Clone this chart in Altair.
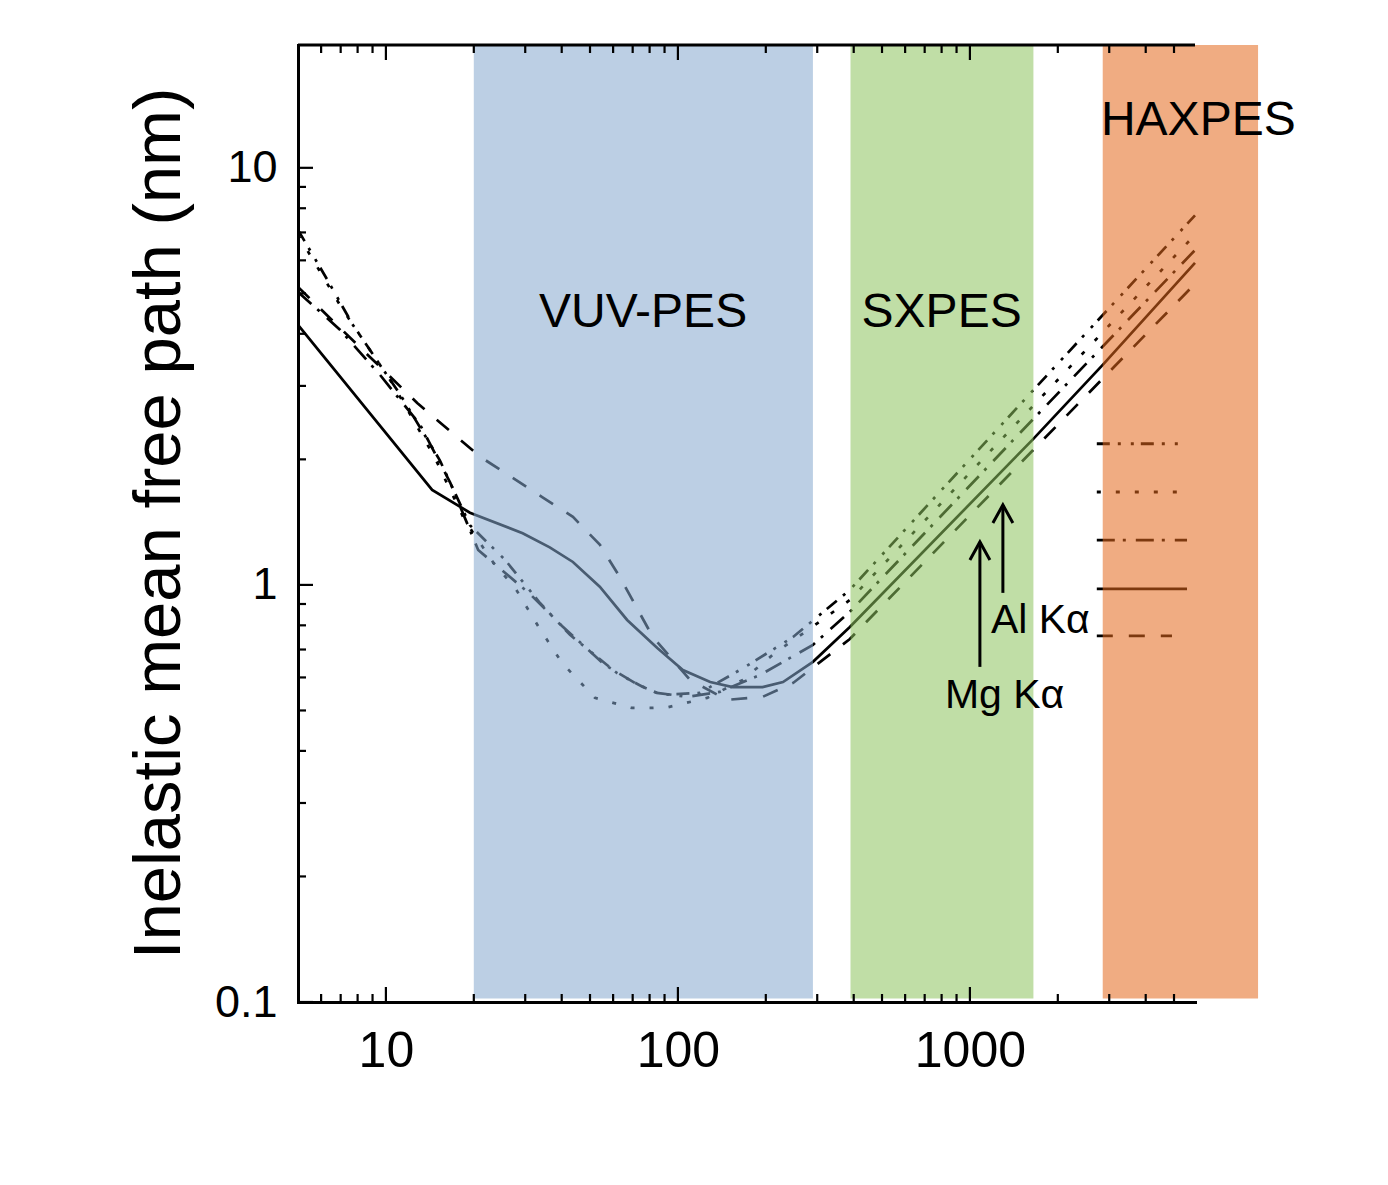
import altair as alt
import pandas as pd

# ---- curves: electron energy (eV) vs inelastic mean free path (nm) ----
solid_x = [5, 14.4, 19.4, 29.4, 36.4, 43.7, 54, 67, 85, 104, 129, 154, 195, 229, 290, 388, 1640, 2850, 5900]
solid_y = [4.2, 1.69, 1.49, 1.33, 1.23, 1.135, 0.99, 0.824, 0.706, 0.625, 0.585, 0.569, 0.569, 0.585, 0.654, 0.793, 2.23, 3.37, 5.92]

dashed_x = [5, 12.8, 21, 34.5, 43.7, 54.1, 63.2, 82.1, 110, 147, 195, 248, 388, 1640, 5900]
dashed_y = [5.18, 2.73, 2.03, 1.62, 1.456, 1.247, 1.045, 0.75, 0.592, 0.53, 0.539, 0.582, 0.742, 2.10, 5.27]

dotted_x = [5, 7.13, 10.5, 14.7, 18.6, 23.6, 27.7, 33.2, 40.1, 52.0, 69.6, 80.2, 92.4, 126, 167, 215, 279, 388, 1640, 5900]
dotted_y = [6.91, 4.56, 3.05, 2.02, 1.43, 1.117, 0.984, 0.797, 0.650, 0.536, 0.507, 0.507, 0.509, 0.536, 0.592, 0.687, 0.780, 0.920, 2.68, 6.91]

dashdotdot_x = [5, 6.33, 7.71, 11.2, 15.3, 19.4, 25.6, 33.7, 42.7, 61.8, 75.9, 88.1, 119, 170, 248, 388, 1640, 5900]
dashdotdot_y = [7.10, 5.36, 4.20, 2.86, 1.99, 1.39, 1.148, 0.905, 0.759, 0.615, 0.569, 0.545, 0.551, 0.636, 0.750, 0.973, 2.92, 7.69]

dashdot_x = [5, 6.96, 9.54, 13.1, 16.6, 20.7, 31.1, 40.1, 56.2, 71.3, 84.7, 108, 139, 191, 290, 388, 1640, 5900]
dashdot_y = [5.04, 4.09, 3.19, 2.42, 1.76, 1.213, 0.952, 0.797, 0.643, 0.582, 0.551, 0.539, 0.554, 0.608, 0.718, 0.862, 2.49, 6.35]

# ---- line-style key drawn inside the HAXPES band ----
key_names = ["dashdotdot", "dotted", "dashdot", "solid", "dashed"]
key_y = [2.18, 1.67, 1.28, 0.978, 0.755]
key_x0 = [2720, 2720, 2720, 2720, 2720]
key_x1 = [5240, 5120, 5540, 5540, 4920]

# ---- spectroscopy bands ----
band_names = ["VUV-PES", "SXPES", "HAXPES"]
band_x0 = [20, 390, 2850]
band_x1 = [290, 1650, 9700]
band_y0 = [0.102, 0.102, 0.102]
band_y1 = [19.7, 19.7, 19.7]
band_colors = ["#85A8CE", "#8CC35D", "#E4681C"]

# ---- text labels ----
label_text = ["VUV-PES", "SXPES", "HAXPES"]
label_x = [76, 800, 2810]
label_y = [4.16, 4.16, 12.0]
label_align = ["center", "center", "left"]

xray_text = ["Al Kα", "Mg Kα"]
xray_text_x = [1180, 821]
xray_text_y = [0.767, 0.507]
arrow_x = [1297, 1082]
arrow_y0 = [0.957, 0.636]
arrow_y1 = [1.555, 1.268]

# ---- axes ----
x_domain = [5, 5900]
y_domain = [0.1, 19.7]
x_labels = [10, 100, 1000]
y_labels = [0.1, 1, 10]
x_minor = [6, 7, 8, 9, 20, 30, 40, 50, 60, 70, 80, 90, 200, 300, 400, 500, 600, 700, 800, 900,
           2000, 3000, 4000, 5000]
y_minor = [0.2, 0.3, 0.4, 0.5, 0.6, 0.7, 0.8, 0.9, 2, 3, 4, 5, 6, 7, 8, 9]

W, H = 897, 957
SANS = "Liberation Sans"

xs = alt.Scale(type="log", domain=x_domain, nice=False)
ys = alt.Scale(type="log", domain=y_domain, nice=False)

XAX = alt.Axis(
    values=x_labels, format="d", title=None, ticks=False, tickSize=0, grid=False,
    labelFont=SANS, labelFontSize=50, labelPadding=24, labelColor="black",
    labelFlush=False, labelOverlap=False, domainColor="black", domainWidth=3,
    domainCap="square")
YAX = alt.Axis(
    values=y_labels, format="~g", ticks=False, tickSize=0, grid=False,
    labelFont=SANS, labelFontSize=45, labelPadding=21, labelColor="black",
    labelFlush=False, labelOverlap=False, domainColor="black", domainWidth=3,
    domainCap="square",
    title="Inelastic mean free path (nm)", titleFont=SANS, titleFontSize=67,
    titleFontWeight="normal", titleColor="black", titleAngle=270,
    titleX=-119, titleY=478, titleAlign="center", titleBaseline="alphabetic")


def X(field):
    return alt.X(field, scale=xs, axis=XAX)


def Y(field):
    return alt.Y(field, scale=ys, axis=YAX)


styles = {
    "dashdotdot": [13, 8, 3, 10, 3, 7],
    "dotted": [4, 15],
    "dashdot": [18, 8, 3, 10],
    "solid": None,
    "dashed": [16, 16],
}
series = [
    ("solid", solid_x, solid_y),
    ("dashed", dashed_x, dashed_y),
    ("dotted", dotted_x, dotted_y),
    ("dashdotdot", dashdotdot_x, dashdotdot_y),
    ("dashdot", dashdot_x, dashdot_y),
]

layers = []
for name, sx, sy in series:
    df = pd.DataFrame({"E": sx, "L": sy})
    kw = dict(color="black", strokeWidth=2.7, clip=False)
    if styles[name] is not None:
        kw["strokeDash"] = styles[name]
    layers.append(alt.Chart(df).mark_line(**kw).encode(x=X("E:Q"), y=Y("L:Q"), order="E:Q"))

# key lines
for name, yv, a, b in zip(key_names, key_y, key_x0, key_x1):
    df = pd.DataFrame({"E": [a], "E2": [b], "L": [yv]})
    kw = dict(color="black", strokeWidth=2.8)
    if styles[name] is not None:
        kw["strokeDash"] = styles[name]
    layers.append(alt.Chart(df).mark_rule(**kw).encode(x=X("E:Q"), x2="E2:Q", y=Y("L:Q")))

# bands (semi-transparent, over the curves)
bands = pd.DataFrame({"name": band_names, "E": band_x0, "E2": band_x1,
                      "L": band_y0, "L2": band_y1, "c": band_colors})
layers.append(alt.Chart(bands).mark_rect(opacity=0.55, clip=False).encode(
    x=X("E:Q"), x2="E2:Q", y=Y("L:Q"), y2="L2:Q",
    color=alt.Color("c:N", scale=None)))


# inward ticks
def xticks(vals, length, top):
    df = pd.DataFrame({"E": vals})
    if top:
        yy, yy2 = alt.value(0), alt.value(length)
    else:
        yy, yy2 = alt.value(H), alt.value(H - length)
    return alt.Chart(df).mark_rule(color="black", strokeWidth=2.2).encode(
        x=X("E:Q"), y=yy, y2=yy2)


def yticks(vals, length):
    df = pd.DataFrame({"L": vals})
    return alt.Chart(df).mark_rule(color="black", strokeWidth=2.2).encode(
        y=Y("L:Q"), x=alt.value(0), x2=alt.value(length))


layers += [
    xticks(x_labels, 15, False), xticks(x_minor, 8, False),
    xticks(x_labels, 15, True), xticks(x_minor, 8, True),
    yticks(y_labels, 15), yticks(y_minor, 8),
]

# top frame line
topline = pd.DataFrame({"E": [x_domain[0]], "E2": [x_domain[1]], "L": [y_domain[1]]})
layers.append(alt.Chart(topline).mark_rule(color="black", strokeWidth=3).encode(
    x=X("E:Q"), x2="E2:Q", y=Y("L:Q")))

# band labels
for t, xv, yv, al in zip(label_text, label_x, label_y, label_align):
    df = pd.DataFrame({"E": [xv], "L": [yv], "t": [t]})
    layers.append(alt.Chart(df).mark_text(
        font=SANS, fontSize=48, color="black", align=al, baseline="alphabetic", clip=False
    ).encode(x=X("E:Q"), y=Y("L:Q"), text="t:N"))

# X-ray line labels and arrows
for t, xv, yv in zip(xray_text, xray_text_x, xray_text_y):
    df = pd.DataFrame({"E": [xv], "L": [yv], "t": [t]})
    layers.append(alt.Chart(df).mark_text(
        font=SANS, fontSize=41, color="black", align="left", baseline="alphabetic"
    ).encode(x=X("E:Q"), y=Y("L:Q"), text="t:N"))

arrows = pd.DataFrame({"E": arrow_x, "L": arrow_y0, "L2": arrow_y1})
layers.append(alt.Chart(arrows).mark_rule(color="black", strokeWidth=3).encode(
    x=X("E:Q"), y=Y("L:Q"), y2="L2:Q"))
heads = pd.DataFrame({"E": arrow_x, "L": arrow_y1})
layers.append(alt.Chart(heads).mark_point(
    shape="M-1,1.8L0,0L1,1.8", size=400, filled=False, color="black",
    strokeWidth=3, opacity=1
).encode(x=X("E:Q"), y=Y("L:Q")))

chart = alt.layer(*layers).properties(
    width=W, height=H,
    autosize=alt.AutoSizeParams(type="none"),
    padding={"left": 290, "top": 37, "right": 180, "bottom": 150},
    background="white",
).configure_view(stroke="transparent")

chart.save("out.html", embed_options={"renderer": "svg", "actions": False})
